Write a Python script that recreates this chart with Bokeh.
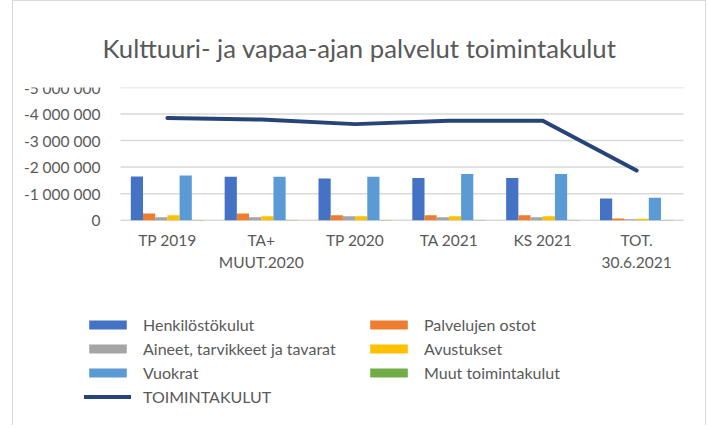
import numpy as np
from bokeh.plotting import figure
from bokeh.layouts import column
from bokeh.models import Range1d, FixedTicker, Legend, LegendItem, ColumnDataSource
from bokeh.transform import dodge
from bokeh.embed import file_html
from bokeh.resources import INLINE

categories = ["TP 2019", "TA+\nMUUT.2020", "TP 2020", "TA 2021", "KS 2021", "TOT.\n30.6.2021"]
henkilostokulut = [-1650000, -1640000, -1570000, -1590000, -1590000, -820000]
palvelujen_ostot = [-250000, -250000, -190000, -190000, -190000, -60000]
aineet = [-110000, -110000, -150000, -110000, -110000, -40000]
avustukset = [-190000, -150000, -150000, -150000, -150000, -50000]
vuokrat = [-1680000, -1640000, -1640000, -1740000, -1740000, -850000]
muut_toimintakulut = [-10000, -10000, -10000, -10000, -10000, -5000]
toimintakulut = [-3850000, -3790000, -3620000, -3750000, -3750000, -1870000]
y_ticks = [0, -1000000, -2000000, -3000000, -4000000, -5000000]

series_names = ["Henkilöstökulut", "Palvelujen ostot", "Aineet, tarvikkeet ja tavarat",
                "Avustukset", "Vuokrat", "Muut toimintakulut"]
series_values = [henkilostokulut, palvelujen_ostot, aineet, avustukset, vuokrat, muut_toimintakulut]
colors = ["#4472C4", "#ED7D31", "#A5A5A5", "#FFC000", "#5B9BD5", "#70AD47"]
line_color = "#264478"
grid_color = "#D9D9D9"

n = len(categories)
xpos = np.arange(n) + 0.5

data = {"x": xpos, "total": toimintakulut}
for i, vals in enumerate(series_values):
    data[f"s{i}"] = vals
src = ColumnDataSource(data)

FONT = "Lato"
TXT = "#595959"

# layout (canvas pixels)
W, H, TOP = 692, 424, 86
PX_LEFT, PX_W, PX_H = 107.0, 563.0, 132.7
ux = PX_W / n
ymin_v = y_ticks[-1]
uy = PX_H / abs(ymin_v)
x_range = Range1d(start=-PX_LEFT / ux, end=(W - PX_LEFT) / ux)
y_range = Range1d(start=(H - TOP - PX_H) / uy, end=ymin_v)

p = figure(x_range=x_range, y_range=y_range, width=W, height=H,
           output_backend="svg", toolbar_location=None,
           min_border_left=0, min_border_right=0, min_border_top=TOP, min_border_bottom=0)
p.outline_line_color = None
p.grid.visible = False

# horizontal grid lines across the category area
p.segment(x0=0, x1=n, y0=y_ticks, y1=y_ticks, line_color=grid_color, line_width=1.5)

bw = 0.13
renderers = []
for i in range(6):
    off = (i - 2.5) * bw
    r = p.vbar(x=dodge("x", off), top=f"s{i}", bottom=0, width=bw,
               source=src, fill_color=colors[i], line_color=None)
    renderers.append(r)

ln = p.line(x="x", y="total", source=src, line_color=line_color, line_width=4,
            line_cap="round", line_join="round")

p.title.text = "Kulttuuri- ja vapaa-ajan palvelut toimintakulut"
p.title.text_font = FONT
p.title.text_font_size = "25.7px"
p.title.text_font_style = "normal"
p.title.text_color = TXT
p.title.align = "left"
p.title.offset = 89
p.title.standoff = 50

p.yaxis.fixed_location = 0
p.yaxis.bounds = (ymin_v, 0)
p.yaxis.ticker = FixedTicker(ticks=y_ticks)
p.yaxis.major_label_overrides = {v: f"{v:,}".replace(",", " ") for v in y_ticks}
p.yaxis.axis_line_color = None
p.yaxis.major_tick_line_color = None
p.yaxis.minor_tick_line_color = None
p.yaxis.major_label_standoff = 14
p.yaxis.major_label_text_font = FONT
p.yaxis.major_label_text_font_size = "15.5px"
p.yaxis.major_label_text_color = TXT

p.xaxis.fixed_location = 0
p.xaxis.bounds = (0, n)
p.xaxis.ticker = FixedTicker(ticks=list(xpos))
p.xaxis.major_label_overrides = {float(x): c for x, c in zip(xpos, categories)}
p.xaxis.axis_line_color = None
p.xaxis.major_tick_line_color = None
p.xaxis.minor_tick_line_color = None
p.xaxis.major_label_standoff = 5
p.xaxis.major_label_text_font = FONT
p.xaxis.major_label_text_font_size = "15.5px"
p.xaxis.major_label_text_color = TXT

items = [LegendItem(label=series_names[i], renderers=[renderers[i]]) for i in range(6)]
items.append(LegendItem(label="TOIMINTAKULUT", renderers=[ln]))
lg = Legend(items=items, location=(71, 19), orientation="horizontal", ncols=2,
            glyph_width=47, glyph_height=11, label_standoff=12, label_width=217,
            label_height=18, spacing=5, padding=0, margin=0,
            border_line_color=None, background_fill_alpha=0,
            label_text_font=FONT, label_text_font_size="16px", label_text_color=TXT)
p.add_layout(lg, "center")

lay = column(p, styles={"position": "relative", "left": "12px",
                        "border-top": "1px solid #D9D9D9", "border-left": "1px solid #D9D9D9",
                        "border-right": "1px solid #D9D9D9"})

open("out.html", "w").write(file_html(lay, INLINE))
